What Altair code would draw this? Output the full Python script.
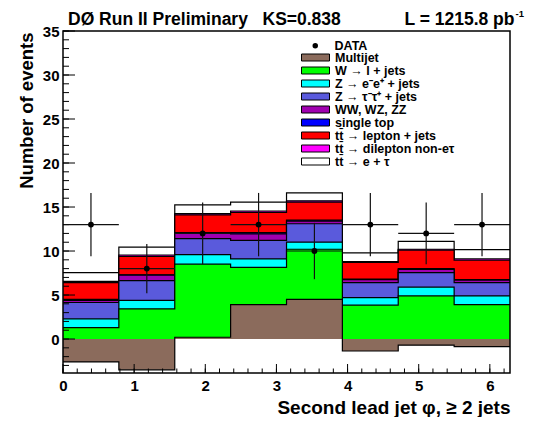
import altair as alt
import pandas as pd

# ---------------- data ----------------
bin_edges = [0.0, 0.785, 1.571, 2.356, 3.142, 3.927, 4.712, 5.498, 6.283]
bin_centers = [0.393, 1.178, 1.963, 2.749, 3.534, 4.320, 5.105, 5.890]

labels = ["Multijet", "W \u2192 l + jets", "Z \u2192 e\u207be\u207a + jets",
          "Z \u2192 \u03c4\u207b\u03c4\u207a + jets", "WW, WZ, ZZ", "single top",
          "tt\u0304 \u2192 lepton + jets", "tt\u0304 \u2192 dilepton non-e\u03c4",
          "tt\u0304 \u2192 e + \u03c4"]
colors = ["#8b6b5c", "#00ff00", "#00ffff", "#5a5adc", "#a000b0", "#0000ff",
          "#ff0000", "#ff00ff", "#ffffff"]

# cumulative (stacked) heights per bin, bottom component first
stack_multijet = [-2.6, -3.5, 0.2, 3.9, 4.5, -1.36, -0.7, -0.87]
stack_wjets = [1.3, 3.43, 8.5, 8.15, 10.2, 3.85, 4.9, 3.9]
stack_zee = [2.3, 4.4, 9.6, 9.1, 11.0, 4.7, 5.9, 4.9]
stack_ztautau = [4.15, 6.64, 11.4, 11.2, 13.1, 6.4, 7.55, 6.4]
stack_diboson = [4.4, 7.25, 12.0, 11.95, 13.4, 6.75, 7.9, 6.7]
stack_singletop = [4.5, 7.3, 12.1, 12.1, 13.5, 6.8, 8.0, 6.75]
stack_ttlj = [6.4, 9.4, 14.1, 14.4, 15.55, 8.7, 10.1, 8.95]
stack_ttdil = [6.55, 9.55, 14.25, 14.55, 15.7, 8.8, 10.2, 9.1]
stack_ttetau = [7.55, 10.45, 15.25, 15.55, 16.6, 9.8, 11.1, 10.15]
stacks = [stack_multijet, stack_wjets, stack_zee, stack_ztautau, stack_diboson,
          stack_singletop, stack_ttlj, stack_ttdil, stack_ttetau]

data_counts = [13, 8, 12, 13, 10, 13, 12, 13]
data_err = [3.6, 2.8, 3.5, 3.6, 3.2, 3.6, 3.5, 3.6]

x_major = [0, 1, 2, 3, 4, 5, 6]
x_minor = [round(i * 0.2, 1) for i in range(32)]
y_major = [0, 5, 10, 15, 20, 25, 30, 35]
y_minor = list(range(-3, 36))

FONT = "Liberation Sans"
W, H = 447, 342
NB = "\u00a0"

# ---------------- tables ----------------
rows = []
for k, st in enumerate(stacks):
    for i, e in enumerate(bin_edges):
        rows.append({"k": k, "comp": labels[k], "x": e, "v": st[min(i, 7)], "base": 0})
df_stack = pd.DataFrame(rows)

df_data = pd.DataFrame({
    "xc": bin_centers,
    "xlo": bin_edges[:-1],
    "xhi": bin_edges[1:],
    "n": data_counts,
    "lo": [n - e for n, e in zip(data_counts, data_err)],
    "hi": [n + e for n, e in zip(data_counts, data_err)],
    "lab": ["DATA"] * 8,
})
one = pd.DataFrame({"a": [0]})

# ---------------- scales / axes ----------------
XS = alt.Scale(domain=[0, 6.2832], nice=False, zero=False)
YS = alt.Scale(domain=[-3.86, 35], nice=False, zero=False)

xaxis = alt.Axis(values=x_major, format="d", ticks=False, domain=False, grid=False,
                 labelFlush=False, labelOverlap=False, labelFont=FONT, labelFontSize=15,
                 labelFontWeight="bold", labelColor="black", labelPadding=5,
                 title="Second lead jet \u03c6, \u2265 2 jets", titleFont=FONT,
                 titleFontSize=19, titleFontWeight="bold", titleColor="black",
                 titleAlign="right", titleX=W, titleY=40, titleBaseline="alphabetic")
yaxis = alt.Axis(values=y_major, format="d", ticks=False, domain=False, grid=False,
                 labelFlush=False, labelOverlap=False, labelFont=FONT, labelFontSize=15,
                 labelFontWeight="bold", labelColor="black", labelPadding=4,
                 title="Number of events", titleFont=FONT, titleFontSize=18.5,
                 titleFontWeight="bold", titleColor="black", titleAngle=270,
                 titleAlign="right", titleX=-31, titleY=1, titleBaseline="alphabetic")


def X(f):
    return alt.X(f, type="quantitative", scale=XS, axis=xaxis)


def Y(f):
    return alt.Y(f, type="quantitative", scale=YS, axis=yaxis)


fill_legend = alt.Legend(orient="none", legendX=238, legendY=20, title=None,
                         symbolType="M-1,-0.25H1V0.25H-1Z", symbolSize=784,
                         symbolStrokeColor="black", symbolStrokeWidth=1,
                         labelFont=FONT, labelFontSize=12.5, labelFontWeight="bold",
                         labelColor="black", labelOffset=5, rowPadding=0, padding=0,
                         clipHeight=13, labelLimit=300)
data_legend = alt.Legend(orient="none", legendX=246, legendY=8.5, title=None,
                         symbolFillColor="black", symbolStrokeColor="black",
                         symbolSize=30, labelFont=FONT, labelFontSize=12.5,
                         labelFontWeight="bold", labelColor="black", labelOffset=13,
                         padding=0)

layers = []
# stacked histograms: draw top-most cumulative first, each filled from 0
for k in reversed(range(len(stacks))):
    base = alt.Chart(df_stack).transform_filter(alt.datum.k == k)
    layers.append(base.mark_area(interpolate="step-after").encode(
        x=X("x"), y=Y("v"), y2=alt.Y2("base"),
        fill=alt.Fill("comp:N", scale=alt.Scale(domain=labels, range=colors),
                      legend=fill_legend)))
    layers.append(base.mark_line(interpolate="step-after", color="black",
                                 strokeWidth=1.2).encode(x=X("x"), y=Y("v")))

# inward ticks
layers.append(alt.Chart(pd.DataFrame({"t": y_minor})).mark_rule(color="black", strokeWidth=1)
              .encode(y=Y("t"), x=alt.value(0), x2=alt.value(6)))
layers.append(alt.Chart(pd.DataFrame({"t": y_major})).mark_rule(color="black", strokeWidth=1)
              .encode(y=Y("t"), x=alt.value(0), x2=alt.value(12)))
layers.append(alt.Chart(pd.DataFrame({"t": x_minor})).mark_rule(color="black", strokeWidth=1)
              .encode(x=X("t"), y=alt.value(H), y2=alt.value(H - 4.5)))
layers.append(alt.Chart(pd.DataFrame({"t": x_major})).mark_rule(color="black", strokeWidth=1)
              .encode(x=X("t"), y=alt.value(H), y2=alt.value(H - 9)))

# data with error bars
dc = alt.Chart(df_data)
layers.append(dc.mark_rule(color="#111", strokeWidth=1.2).encode(
    x=X("xc"), y=Y("lo"), y2=alt.Y2("hi")))
layers.append(dc.mark_rule(color="#111", strokeWidth=1.2).encode(
    x=X("xlo"), x2=alt.X2("xhi"), y=Y("n")))
layers.append(dc.mark_point(filled=True, color="black", size=34, opacity=1).encode(
    x=X("xc"), y=Y("n"),
    shape=alt.Shape("lab:N", scale=alt.Scale(domain=["DATA"], range=["circle"]),
                    legend=data_legend)))

# frame
oc = alt.Chart(one)
layers.append(oc.mark_rect(fillOpacity=0, stroke="black", strokeWidth=1.5).encode(
    x=alt.value(0), x2=alt.value(W), y=alt.value(0), y2=alt.value(H)))

# header texts
layers.append(oc.mark_text(text="D\u00d8 Run II Preliminary" + NB * 3 + "KS=0.838",
                           font=FONT, fontSize=17.5, fontWeight="bold", align="left",
                           baseline="alphabetic", color="black")
              .encode(x=alt.value(5), y=alt.value(-6.5)))
layers.append(oc.mark_text(text="L = 1215.8 pb", font=FONT, fontSize=17.5,
                           fontWeight="bold", align="right", baseline="alphabetic",
                           color="black")
              .encode(x=alt.value(451.5), y=alt.value(-6.5)))
layers.append(oc.mark_text(text="-1", font=FONT, fontSize=9.5, fontWeight="bold",
                           align="left", baseline="alphabetic", color="black")
              .encode(x=alt.value(452.5), y=alt.value(-14)))

chart = alt.layer(*layers).properties(
    width=W, height=H,
    autosize=alt.AutoSizeParams(type="none"),
    padding={"left": 55, "top": 23, "right": 15, "bottom": 44},
).configure_view(strokeWidth=0)

chart.save("out.html", embed_options={"renderer": "svg", "actions": False})
